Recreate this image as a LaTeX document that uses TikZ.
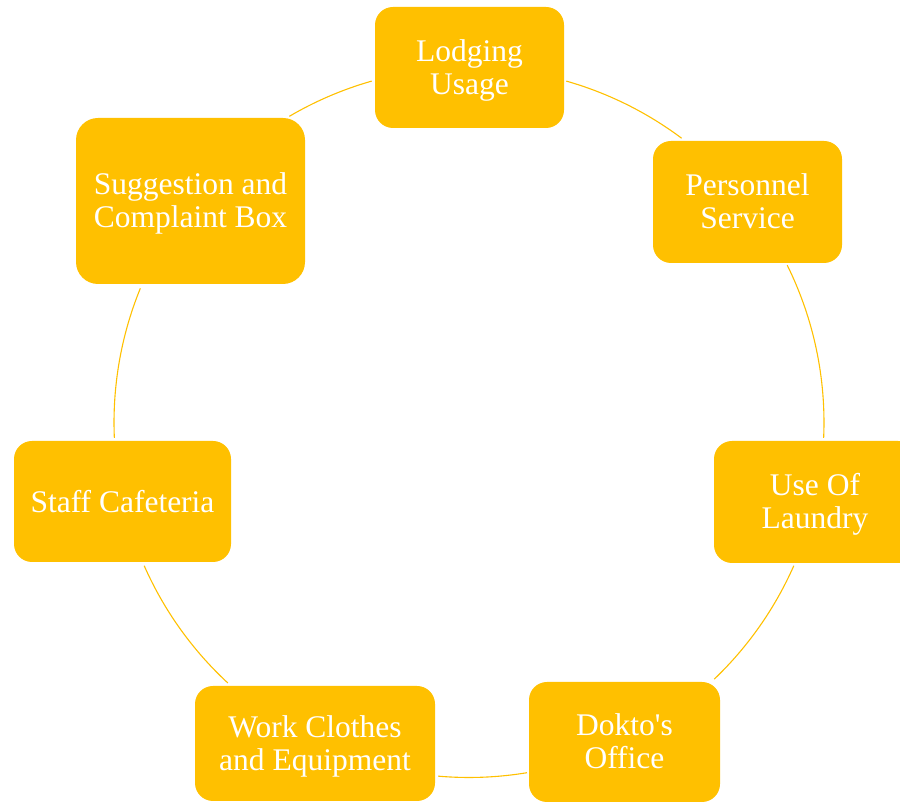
\documentclass[tikz,border=0pt]{standalone}
\usepackage{fontspec}
\setmainfont{Liberation Serif}
\definecolor{gold}{HTML}{FFC000}
\newcommand\twoline[2]{\raisebox{-10pt}[0pt][0pt]{\begin{tabular}{@{}c@{}}#1\\#2\end{tabular}}}
\begin{document}
\begin{tikzpicture}[x=1pt,y=1pt,
  cbox/.style={draw=none,fill=gold,rounded corners=18pt,inner sep=0pt,
    text=white,align=center,font=\fontsize{31.5}{33}\selectfont},
  ring/.style={draw=gold,line width=1.1pt}]
\useasboundingbox (0,0) rectangle (900,802);
\coordinate (c) at (469,379.5);
% arcs
\draw[ring] (c) ++(120.4:355pt) arc[start angle=120.4,end angle=105.9,radius=355pt];
\draw[ring] (c) ++(74.1:355pt) arc[start angle=74.1,end angle=53.2,radius=355pt];
\draw[ring] (c) ++(26.3:355pt) arc[start angle=26.3,end angle=-2.5,radius=355pt];
\draw[ring] (c) ++(-23.8:355pt) arc[start angle=-23.8,end angle=-46.3,radius=355pt];
\draw[ring] (c) ++(-80.6:355pt) arc[start angle=-80.6,end angle=-95.0,radius=355pt];
\draw[ring] (c) ++(-132.8:355pt) arc[start angle=-132.8,end angle=-156.2,radius=355pt];
\draw[ring] (c) ++(182.5:355pt) arc[start angle=182.5,end angle=157.8,radius=355pt];
% nodes
\node[cbox,minimum width=189pt,minimum height=121pt] (lodging) at (469.5,734.5) {\twoline{Lodging}{Usage}};
\node[cbox,minimum width=189pt,minimum height=122pt] (personnel) at (747.5,600) {\twoline{Personnel}{Service}};
\node[cbox,minimum width=202pt,minimum height=122pt] (laundry) at (815,300) {\twoline{Use Of}{Laundry}};
\node[cbox,minimum width=191pt,minimum height=120pt] (dokto) at (624.5,60) {\twoline{Dokto\textquotesingle s}{Office}};
\node[cbox,minimum width=240pt,minimum height=115pt] (work) at (315,58.5) {\twoline{Work Clothes}{and Equipment}};
\node[cbox,minimum width=217pt,minimum height=121pt] (cafeteria) at (122.5,300.5) {Staff Cafeteria};
\node[cbox,rounded corners=22pt,minimum width=229pt,minimum height=166pt] (suggestion) at (190.5,601) {\twoline{Suggestion and}{Complaint Box}};
\end{tikzpicture}
\end{document}
